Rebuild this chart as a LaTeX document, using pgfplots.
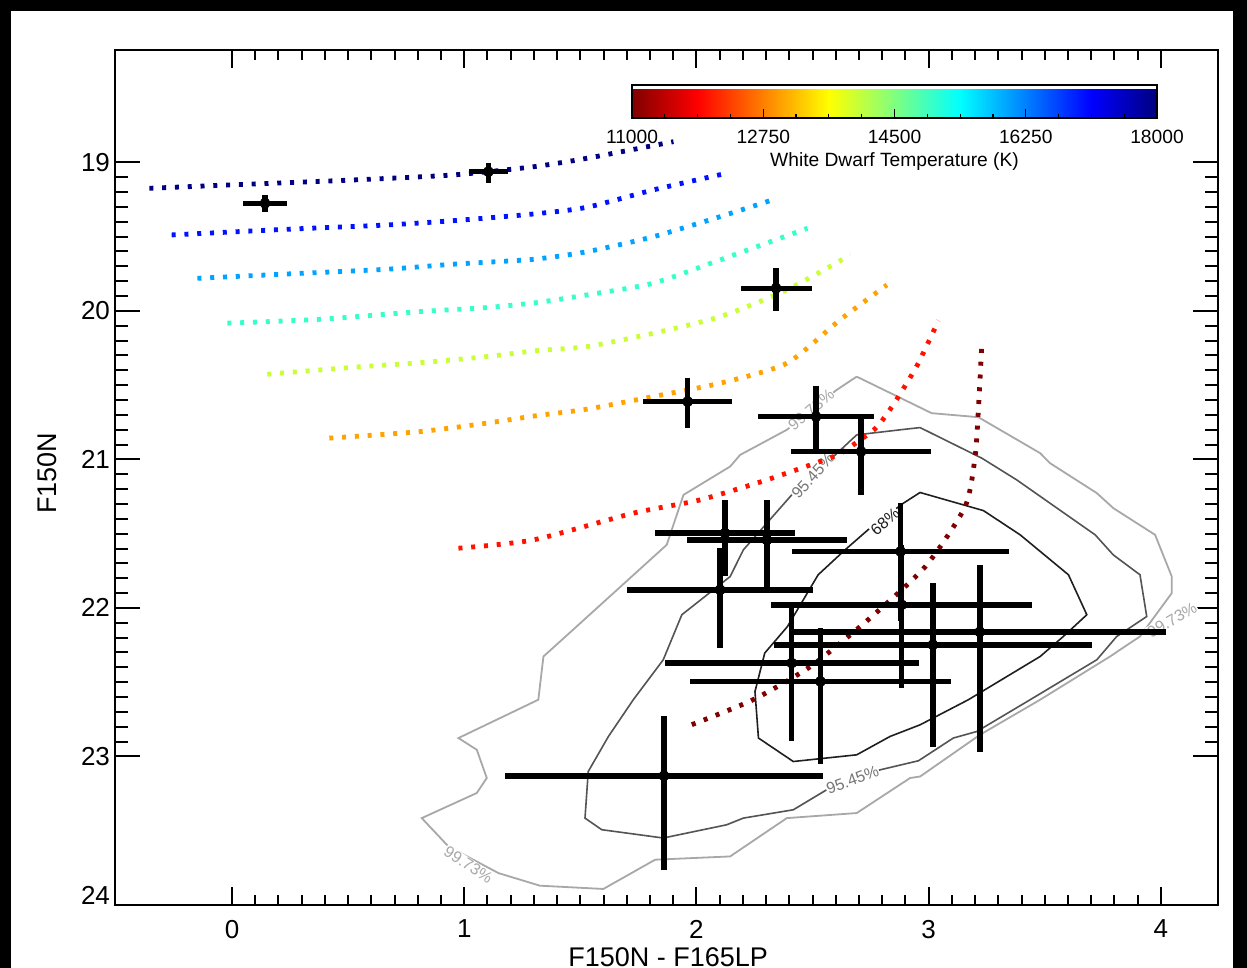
\documentclass[border=0pt]{standalone}
\usepackage{fontspec}
\setmainfont{Liberation Sans}
\usepackage{pgfplots}
\pgfplotsset{compat=1.18}
\usetikzlibrary{calc}

% cooling-track colours, one per white dwarf temperature (K)
\definecolor{wd11}{rgb}{0.50,0.00,0.00}
\definecolor{wd12}{rgb}{1.00,0.07,0.00}
\definecolor{wd13}{rgb}{1.00,0.64,0.00}
\definecolor{wd14}{rgb}{0.79,1.00,0.21}
\definecolor{wd15}{rgb}{0.21,1.00,0.79}
\definecolor{wd16}{rgb}{0.00,0.64,1.00}
\definecolor{wd17}{rgb}{0.00,0.07,1.00}
\definecolor{wd18}{rgb}{0.00,0.00,0.50}
\definecolor{c68}{gray}{0.12}
\definecolor{c95}{gray}{0.33}
\definecolor{c99}{gray}{0.66}

\tikzset{
  track/.style={line width=2.4pt, dash pattern=on 2pt off 4.4pt, smooth, tension=0.4},
  clab/.style={fill=white, inner sep=0.4pt, font=\fontsize{8}{9}\selectfont},
}

\begin{document}
\begin{tikzpicture}
\useasboundingbox (0,0) rectangle (623.5pt,484pt);
\fill[black] (0,0) rectangle (623.5pt,484pt);
\fill[white] (5.5pt,0) rectangle (616.5pt,478.5pt);
\begin{axis}[
  at={(57.5pt,31.5pt)}, anchor=south west,
  scale only axis, width=551.5pt, height=427.5pt,
  xmin=-0.504, xmax=4.246, ymin=18.244, ymax=24, y dir=reverse,
  xtick={0,1,2,3,4}, ytick={19,20,21,22,23},
  extra y ticks={24},
  extra y tick style={yticklabel style={yshift=5pt}},
  minor x tick num=9, minor y tick num=9,
  tick align=inside, xtick pos=both, ytick pos=both,
  xticklabel pos=left, yticklabel pos=left,
  axis line style={line width=1.35pt},
  every tick/.style={black, line width=1pt},
  major tick length=9pt, minor tick length=5pt,
  ytick style={/pgfplots/major tick length=12.5pt, /pgfplots/minor tick length=6.5pt},
  /pgf/number format/assume math mode=true,
  tick label style={font=\fontsize{13}{15}\selectfont},
  xticklabel shift=4pt, yticklabel shift=-1pt,
  xlabel={F150N - F165LP}, ylabel={F150N},
  label style={font=\fontsize{13.5}{16}\selectfont},
  xlabel style={at={(axis description cs:0.5014,-0.0608)}, anchor=center},
  ylabel style={at={(axis description cs:-0.0612,0.505)}, anchor=center},
  point meta min=11000, point meta max=18000,
  colormap={wdtemp}{rgb255(0pt)=(128,0,0); rgb255(1pt)=(255,0,0); rgb255(3pt)=(255,255,0);
    rgb255(5pt)=(0,255,255); rgb255(7pt)=(0,0,255); rgb255(8pt)=(0,0,128)},
  colorbar horizontal,
  colorbar style={
    at={($(parent axis.north west)+(258.5pt,-9pt)$)}, anchor=north west,
    scale only axis, width=262.5pt, height=16.5pt,
    xtick={11000,12750,14500,16250,18000},
    minor x tick num=3,
    xtick pos=left, xticklabel pos=left, tick align=inside,
    major tick length=4.5pt, minor tick length=2pt,
    axis line style={line width=0.6pt},
    every tick/.style={black, line width=0.6pt},
    scaled x ticks=false,
    /pgf/number format/1000 sep={},
    /pgf/number format/assume math mode=true,
    tick label style={font=\fontsize{9.6}{11}\selectfont},
    xticklabel shift=2.45pt,
    xlabel={White Dwarf Temperature (K)},
    xlabel style={at={(axis description cs:0.5,-1.47)}, anchor=base,
      font=\fontsize{9.6}{11}\selectfont},
  },
]

% confidence contours
\addplot[c99, line width=0.9pt] coordinates {
 (2.690,20.443) (3.013,20.689) (3.214,20.716) (3.480,20.958) (3.523,21.026)
 (3.724,21.227) (3.795,21.328) (3.975,21.508) (4.047,21.789) (4.047,21.900)
 (3.910,22.192) (3.781,22.327) (3.480,22.618) (3.221,22.854) (2.963,23.135)
 (2.920,23.145) (2.690,23.381) (2.389,23.415) (2.145,23.673) (1.822,23.695)
 (1.599,23.892) (1.326,23.870) (1.147,23.785) (0.932,23.606) (0.817,23.415)
 (1.054,23.246) (1.097,23.145) (1.054,22.955) (0.975,22.876) (1.319,22.618)
 (1.341,22.327) (1.484,22.125) (1.872,21.575) (1.944,21.239) (2.145,21.048)
 (2.188,20.970) (2.389,20.801) (2.604,20.532) (2.690,20.443)};
\addplot[c95, line width=0.8pt] coordinates {
 (2.690,20.835) (2.877,20.801) (2.963,20.786) (3.229,20.992) (3.379,21.138)
 (3.717,21.508) (3.795,21.643) (3.910,21.777) (3.939,22.058) (3.810,22.192)
 (3.724,22.349) (3.437,22.618) (3.207,22.832) (3.106,22.876) (2.956,23.029)
 (2.791,23.090) (2.561,23.224) (2.417,23.359) (2.202,23.415) (2.130,23.460)
 (1.857,23.549) (1.592,23.493) (1.520,23.415) (1.534,23.101) (1.621,22.865)
 (1.728,22.618) (1.857,22.349) (1.937,22.046) (2.145,21.789) (2.202,21.609)
 (2.417,21.227) (2.590,20.981) (2.690,20.835)};
\addplot[c68, line width=0.8pt] coordinates {
 (2.891,21.295) (2.963,21.223) (3.236,21.345) (3.394,21.508) (3.602,21.777)
 (3.681,22.046) (3.580,22.192) (3.480,22.327) (3.171,22.618) (2.963,22.787)
 (2.834,22.865) (2.690,22.989) (2.417,23.034) (2.267,22.876) (2.252,22.563)
 (2.294,22.304) (2.392,22.125) (2.524,21.777) (2.640,21.609) (2.739,21.474)
 (2.891,21.295)};

\node[clab, text=c99, rotate=40]  at (axis cs:2.494,20.667) {99.73\%};
\node[clab, text=c99, rotate=-33] at (axis cs:1.018,23.729) {99.73\%};
\node[clab, text=c99, rotate=30]  at (axis cs:4.048,22.080) {99.73\%};
\node[clab, text=c95!80, rotate=48] at (axis cs:2.501,21.111) {95.45\%};
\node[clab, text=c95!80, rotate=20] at (axis cs:2.672,23.157) {95.45\%};
\node[clab, text=c68, rotate=40]  at (axis cs:2.812,21.419) {68\%};

% white dwarf cooling tracks, 18000 K down to 11000 K
\addplot[wd18, track] coordinates {
 (-0.356,19.175) (0.092,19.146) (0.522,19.119) (0.953,19.085) (1.298,19.030)
 (1.528,18.973) (1.901,18.861)};
\addplot[wd17, track] coordinates {
 (-0.260,19.489) (0.236,19.451) (0.666,19.422) (0.953,19.393) (1.298,19.348)
 (1.528,19.303) (1.814,19.186) (2.109,19.081)};
\addplot[wd16, track] coordinates {
 (-0.149,19.781) (0.236,19.752) (0.666,19.720) (0.953,19.686) (1.298,19.653)
 (1.528,19.602) (1.814,19.501) (2.102,19.366) (2.314,19.260)};
\addplot[wd15, track] coordinates {
 (-0.020,20.083) (0.379,20.057) (0.810,20.005) (1.097,19.978) (1.309,19.945)
 (1.528,19.893) (1.814,19.814) (2.102,19.657) (2.478,19.444)};
\addplot[wd14, track] coordinates {
 (0.152,20.427) (0.522,20.380) (0.810,20.349) (1.097,20.308) (1.312,20.268)
 (1.528,20.241) (1.814,20.151) (2.102,20.039) (2.389,19.859) (2.662,19.624)};
\addplot[wd13, track] coordinates {
 (0.419,20.857) (0.810,20.813) (1.097,20.756) (1.305,20.707) (1.528,20.662)
 (1.814,20.577) (2.102,20.487) (2.389,20.353) (2.618,20.061) (2.820,19.826)};
\addplot[wd12, track] coordinates {
 (0.975,21.598) (1.298,21.542) (1.728,21.362) (2.015,21.273) (2.303,21.138)
 (2.590,20.981) (2.662,20.916) (2.773,20.788) (2.847,20.633) (2.949,20.371)
 (3.042,20.066)};
\addplot[wd11, track] coordinates {
 (1.980,22.786) (2.244,22.618) (2.491,22.394) (2.739,22.080) (2.986,21.721)
 (3.157,21.318) (3.200,20.981) (3.214,20.667) (3.229,20.218)};

% measured sources with asymmetric magnitude errors
\addplot[black, only marks, mark=*, mark size=2.5pt,
  error bars/.cd, x dir=both, x explicit, y dir=both, y explicit,
  error mark=none, error bar style={line width=2.75pt, black}]
 coordinates {
 (0.142,19.276) += (0.093,0.061) -= (0.093,0.056)
 (1.104,19.063) += (0.084,0.078) -= (0.084,0.061)
 (2.343,19.848) += (0.153,0.153) -= (0.153,0.139)
 (1.962,20.611) += (0.193,0.179) -= (0.193,0.162)
 (2.515,20.712) += (0.248,0.219) -= (0.248,0.207)
 (2.709,20.947) += (0.300,0.291) -= (0.300,0.236)
 (2.123,21.497) += (0.301,0.289) -= (0.301,0.222)
 (2.303,21.542) += (0.345,0.336) -= (0.345,0.269)
 (2.102,21.878) += (0.399,0.392) -= (0.399,0.281)
 (2.879,21.620) += (0.469,0.471) -= (0.469,0.326)
 (2.884,21.979) += (0.562,0.561) -= (0.562,0.404)
 (3.220,22.161) += (0.801,0.808) -= (0.801,0.451)
 (3.018,22.248) += (0.685,0.686) -= (0.685,0.417)
 (2.410,22.371) += (0.547,0.528) -= (0.547,0.381)
 (2.534,22.495) += (0.560,0.554) -= (0.560,0.363)
 (1.860,23.130) += (0.684,0.637) -= (0.684,0.404)
 };
\end{axis}
\end{tikzpicture}
\end{document}
